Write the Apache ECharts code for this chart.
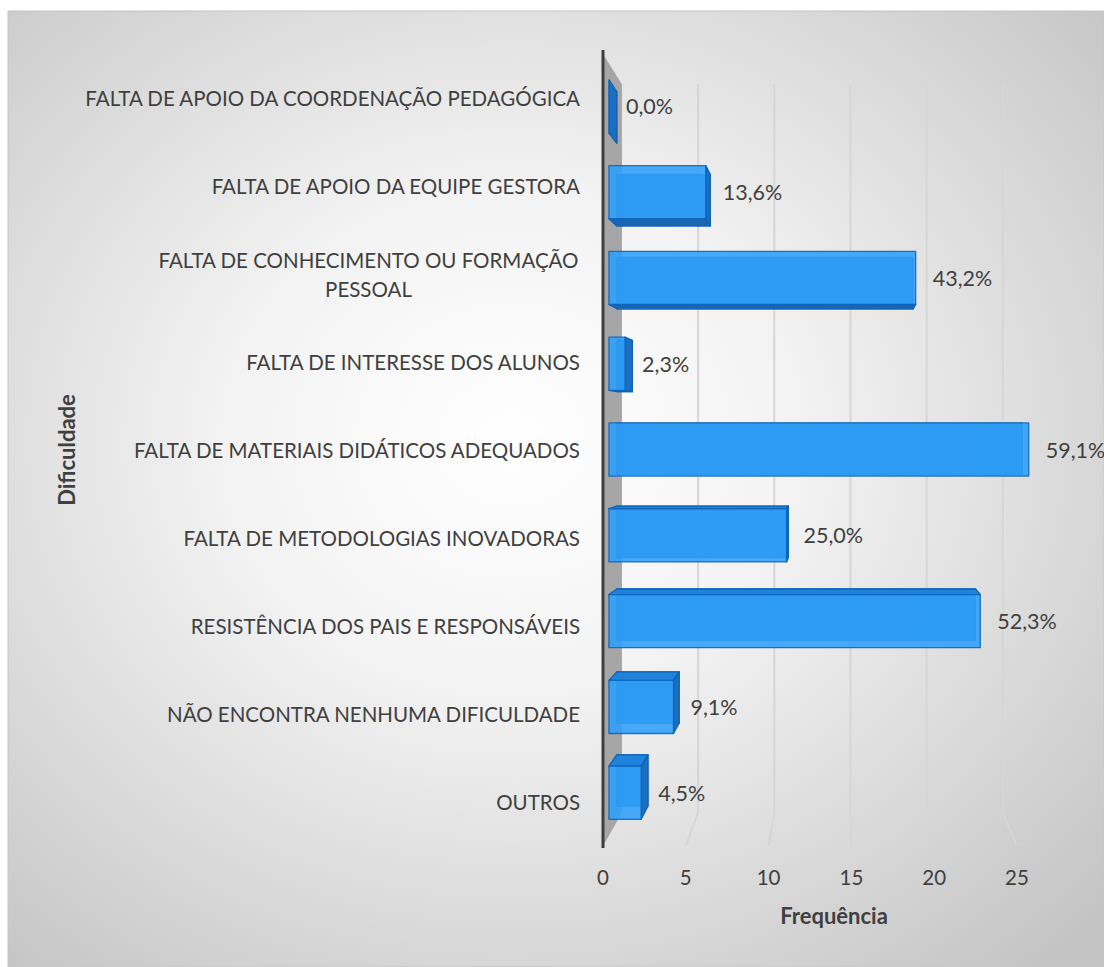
<!DOCTYPE html>
<html lang="pt">
<head>
<meta charset="utf-8">
<title>Dificuldades</title>
<script src="https://cdn.jsdelivr.net/npm/echarts@6/dist/echarts.min.js"></script>
<style>
  html, body { margin: 0; padding: 0; background: #ffffff; }
  #chart { width: 1104px; height: 967px; }
</style>
</head>
<body>
<div id="chart"></div>
<script>
// Categories, top to bottom
const categories = [
  'FALTA DE APOIO DA COORDENAÇÃO PEDAGÓGICA',
  'FALTA DE APOIO DA EQUIPE GESTORA',
  'FALTA DE CONHECIMENTO OU FORMAÇÃO\nPESSOAL',
  'FALTA DE INTERESSE DOS ALUNOS',
  'FALTA DE MATERIAIS DIDÁTICOS ADEQUADOS',
  'FALTA DE METODOLOGIAS INOVADORAS',
  'RESISTÊNCIA DOS PAIS E RESPONSÁVEIS',
  'NÃO ENCONTRA NENHUMA DIFICULDADE',
  'OUTROS'
];
// Number of answers per difficulty (multiple choice)
const frequencies = [0, 6, 19, 1, 26, 11, 23, 4, 2];
// Number of respondents, used for the percentage labels
const respondents = 44;
// Value axis ticks
const xTicks = [0, 5, 10, 15, 20, 25];

const FONT = 'Lato, "Open Sans", "Noto Sans", sans-serif';
const TEXT = '#404040';
const CAT_SIZE = 20.5;

// Perspective: vanishing point (fraction of plot rect) and depth factors
const VANISH_X = 0.572, VANISH_Y = 0.476;
const WALL_DEPTH = 0.08;
const BAR_FRONT = 0.025, BAR_BACK = 0.058;
const BAR_THICKNESS = 0.62;

const pct = v => (v / respondents * 100).toFixed(1).replace('.', ',') + '%';

// width of the widest line of multi-line labels, so their lines can be centred
const measureCtx = document.createElement('canvas').getContext('2d');
measureCtx.font = CAT_SIZE + 'px ' + FONT;
let wrapWidth = 0;
categories.forEach(c => {
  if (c.includes('\n')) c.split('\n').forEach(l => { wrapWidth = Math.max(wrapWidth, measureCtx.measureText(l).width); });
});

function projector(cs) {
  const vp = [cs.x + cs.width * VANISH_X, cs.y + cs.height * VANISH_Y];
  return (x, y, z) => [x + (vp[0] - x) * z, y + (vp[1] - y) * z];
}

// Side wall and gridlines running along the back wall and the floor
function renderGrid(params, api) {
  const cs = params.coordSys;
  const at = projector(cs);
  const t = api.value(0);
  const x = api.coord([t, 0])[0];
  const yTop = cs.y, yBot = cs.y + cs.height;
  if (t === 0) {
    return {
      type: 'group',
      children: [
        { type: 'polygon', shape: { points: [[x, yTop], at(x, yTop, WALL_DEPTH), at(x, yBot, WALL_DEPTH), [x, yBot]] },
          style: { fill: '#a6a6a6' } },
        { type: 'line', shape: { x1: x, y1: yTop - 4, x2: x, y2: yBot + 2 },
          style: { stroke: '#3f3f3f', lineWidth: 3 } }
      ]
    };
  }
  return {
    type: 'polyline',
    shape: { points: [at(x, yTop, WALL_DEPTH), at(x, yBot, WALL_DEPTH), [x, yBot]] },
    style: { stroke: '#d6d6d6', lineWidth: 2, fill: null }
  };
}

// 3D-looking bar: back, side faces, translucent front, value label
function renderBar(params, api) {
  const cs = params.coordSys;
  const at = projector(cs);
  const value = api.value(0), cat = api.value(1);
  const base = api.coord([0, cat]);
  const tip = api.coord([value, cat]);
  const h = api.size([0, 1])[1] * BAR_THICKNESS;
  const x0 = base[0], x1 = tip[0], yT = base[1] - h / 2, yB = base[1] + h / 2;
  const box = z => ({ lt: at(x0, yT, z), rt: at(x1, yT, z), rb: at(x1, yB, z), lb: at(x0, yB, z) });
  const F = box(BAR_FRONT), B = box(BAR_BACK);
  const face = (pts, fill, opacity) => ({
    type: 'polygon', shape: { points: pts },
    style: { fill, opacity: opacity == null ? 1 : opacity, stroke: '#0f63b6', lineWidth: 1.3, lineJoin: 'round' }
  });
  const children = [];
  children.push(face([B.lt, B.rt, B.rb, B.lb], '#1c78d0', 0.9));
  if (B.rb[1] > F.rb[1]) children.push(face([F.lb, F.rb, B.rb, B.lb], '#1866b4'));
  if (B.rt[1] < F.rt[1]) children.push(face([F.lt, F.rt, B.rt, B.lt], '#1f82dc'));
  if (B.rt[0] > F.rt[0]) children.push(face([F.rt, B.rt, B.rb, F.rb], '#1b6ec2'));
  if (value > 0) children.push(face([F.lt, F.rt, F.rb, F.lb], '#2e9ff8', 0.88));
  children.push({
    type: 'text',
    style: {
      text: pct(value), x: F.rt[0] + 17, y: (F.rt[1] + F.rb[1]) / 2,
      fill: TEXT, fontSize: 21.5, fontFamily: FONT, align: 'left', verticalAlign: 'middle'
    }
  });
  return { type: 'group', children };
}

const chart = echarts.init(document.getElementById('chart'), null, { renderer: 'svg' });

chart.setOption({
  animation: false,
  backgroundColor: '#ffffff',
  graphic: [
    {
      type: 'rect', z: -10, silent: true,
      shape: { x: 8, y: 11, width: 1096, height: 956 },
      style: {
        fill: new echarts.graphic.RadialGradient(0.46, 0.45, 0.74, [
          { offset: 0, color: '#ffffff' },
          { offset: 0.35, color: '#f3f3f3' },
          { offset: 1, color: '#c3c3c3' }
        ]),
        stroke: '#c4c4c4', lineWidth: 1
      }
    },
    {
      type: 'text', x: 834, y: 915,
      style: { text: 'Frequência', font: 'bold 22px ' + FONT, fill: TEXT, align: 'center', verticalAlign: 'middle' }
    },
    {
      type: 'text', x: 66, y: 450, rotation: Math.PI / 2,
      style: { text: 'Dificuldade', font: 'bold 22px ' + FONT, fill: TEXT, align: 'center', verticalAlign: 'middle' }
    }
  ],
  grid: { left: 603, right: 87, top: 54, bottom: 121, containLabel: false },
  xAxis: {
    type: 'value', min: 0, max: 25, interval: 5,
    axisLine: { show: false }, axisTick: { show: false }, splitLine: { show: false },
    axisLabel: { fontSize: 20.5, fontFamily: FONT, color: TEXT, margin: 20 }
  },
  yAxis: {
    type: 'category', inverse: true, data: categories,
    axisLine: { show: false }, axisTick: { show: false }, splitLine: { show: false },
    axisLabel: {
      fontSize: CAT_SIZE, fontFamily: FONT, color: TEXT, margin: 23, lineHeight: 29,
      formatter: v => v.includes('\n') ? v.split('\n').map(l => '{c|' + l + '}').join('\n') : v,
      rich: { c: { width: Math.ceil(wrapWidth) + 2, align: 'center', fontSize: CAT_SIZE, fontFamily: FONT, color: TEXT, lineHeight: 29 } }
    }
  },
  series: [
    {
      type: 'custom', z: 1, silent: true,
      renderItem: renderGrid,
      encode: { x: 0, y: 1 },
      data: xTicks.map(t => [t, 0])
    },
    {
      type: 'custom', z: 2,
      renderItem: renderBar,
      encode: { x: 0, y: 1 },
      data: frequencies.map((v, i) => [v, i])
    }
  ]
});
</script>
</body>
</html>
